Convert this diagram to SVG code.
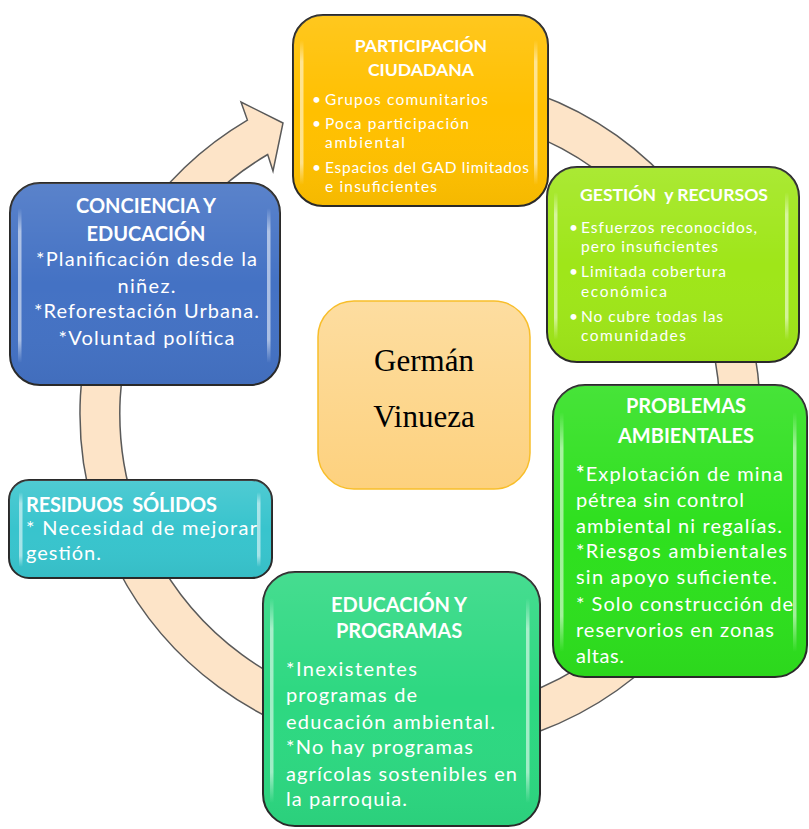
<svg xmlns="http://www.w3.org/2000/svg" width="809" height="829" viewBox="0 0 809 829">
<defs>
<linearGradient id="hl" x1="0" y1="0" x2="0" y2="1">
<stop offset="0" stop-color="#fff" stop-opacity="0"/>
<stop offset="0.15" stop-color="#fff" stop-opacity="0.55"/>
<stop offset="0.85" stop-color="#fff" stop-opacity="0.55"/>
<stop offset="1" stop-color="#fff" stop-opacity="0"/>
</linearGradient>
<linearGradient id="sheen" x1="0" y1="0" x2="0" y2="1">
<stop offset="0" stop-color="#fff" stop-opacity="0.12"/>
<stop offset="0.5" stop-color="#fff" stop-opacity="0"/>
<stop offset="1" stop-color="#000" stop-opacity="0.04"/>
</linearGradient>
<linearGradient id="center" x1="0" y1="0" x2="0" y2="1">
<stop offset="0" stop-color="#FDDDA0"/>
<stop offset="1" stop-color="#FDD17E"/>
</linearGradient>
</defs>
<style>
.box{stroke:#2a2a2a;stroke-width:2}
.sh{fill:url(#sheen);stroke:none}
.hl{fill:url(#hl)}
.t{font-family:Lato,"Open Sans","Liberation Sans",sans-serif;fill:#fff}
.h{font-weight:bold;text-anchor:middle;font-size:20px}
.hs{font-weight:bold;text-anchor:middle;font-size:17.6px}
.b{font-size:15.5px}
.m{font-size:20px}
.c{text-anchor:middle}
.ring{fill:#FDE4C8;stroke:#5a5a5a;stroke-width:1.5;stroke-linejoin:miter}
</style>
<rect width="809" height="829" fill="#fff"/>

<g id="connectors">
<path class="ring" d="M 360.96 78.2 A 340 340 0 1 1 247.4 120.1 L 241 102 L 283 123 L 273 171 L 267.7 154.5 A 300 300 0 1 0 367.9 117.6 Z"/>
</g>

<g id="participacion">
<rect class="box" x="293" y="15" width="255" height="191" rx="30" fill="#FFC000"/>
<rect class="sh" x="293" y="15" width="255" height="191" rx="30"/>
<rect class="hl" x="300" y="40" width="3.5" height="145" rx="1.7"/>
<rect class="hl" x="534" y="40" width="3.5" height="145" rx="1.7"/>
<text class="t hs" x="421" y="52">PARTICIPACIÓN</text>
<text class="t hs" x="421" y="76">CIUDADANA</text>
<text class="t b" x="312" y="105">•</text>
<text class="t b" x="312" y="129">•</text>
<text class="t b" x="312" y="173">•</text>
<text class="t b" x="325" y="105" textLength="163" lengthAdjust="spacing">Grupos comunitarios</text>
<text class="t b" x="325" y="129" textLength="144" lengthAdjust="spacing">Poca participación</text>
<text class="t b" x="325" y="148" textLength="80" lengthAdjust="spacing">ambiental</text>
<text class="t b" x="325" y="173" textLength="204" lengthAdjust="spacing">Espacios del GAD limitados</text>
<text class="t b" x="325" y="192" textLength="112" lengthAdjust="spacing">e insuficientes</text>
</g>

<g id="gestion">
<rect class="box" x="547" y="167" width="252" height="195" rx="30" fill="#9FE619"/>
<rect class="sh" x="547" y="167" width="252" height="195" rx="30"/>
<rect class="hl" x="554" y="192" width="3.5" height="148" rx="1.7"/>
<rect class="hl" x="785" y="192" width="3.5" height="148" rx="1.7"/>
<text class="t hs" x="674" y="201" xml:space="preserve">GESTIÓN  y RECURSOS</text>
<text class="t b" x="569" y="233">•</text>
<text class="t b" x="569" y="277">•</text>
<text class="t b" x="569" y="322">•</text>
<text class="t b" x="581" y="233" textLength="176" lengthAdjust="spacing">Esfuerzos reconocidos,</text>
<text class="t b" x="581" y="252" textLength="137" lengthAdjust="spacing">pero insuficientes</text>
<text class="t b" x="581" y="277" textLength="145" lengthAdjust="spacing">Limitada cobertura</text>
<text class="t b" x="581" y="297" textLength="86" lengthAdjust="spacing">económica</text>
<text class="t b" x="581" y="322" textLength="142" lengthAdjust="spacing">No cubre todas las</text>
<text class="t b" x="581" y="341" textLength="105" lengthAdjust="spacing">comunidades</text>
</g>

<g id="problemas">
<rect class="box" x="553" y="385" width="254" height="292" rx="32" fill="#2EE01E"/>
<rect class="sh" x="553" y="385" width="254" height="292" rx="32"/>
<rect class="hl" x="560" y="412" width="3.5" height="240" rx="1.7"/>
<rect class="hl" x="793" y="412" width="3.5" height="240" rx="1.7"/>
<text class="t h" x="686" y="413">PROBLEMAS</text>
<text class="t h" x="686" y="443">AMBIENTALES</text>
<text class="t m" x="576" y="481" textLength="207" lengthAdjust="spacing"><tspan font-weight="bold">*</tspan>Explotación de mina</text>
<text class="t m" x="576" y="507" textLength="168" lengthAdjust="spacing">pétrea sin control</text>
<text class="t m" x="576" y="533" textLength="206" lengthAdjust="spacing">ambiental ni regalías.</text>
<text class="t m" x="576" y="558" textLength="211" lengthAdjust="spacing">*Riesgos ambientales</text>
<text class="t m" x="576" y="584" textLength="201" lengthAdjust="spacing">sin apoyo suficiente.</text>
<text class="t m" x="576" y="611" textLength="217" lengthAdjust="spacing">* Solo construcción de</text>
<text class="t m" x="576" y="637" textLength="198" lengthAdjust="spacing">reservorios en zonas</text>
<text class="t m" x="576" y="663" textLength="48" lengthAdjust="spacing">altas.</text>
</g>

<g id="educacion-programas">
<rect class="box" x="263" y="572" width="277" height="254" rx="32" fill="#2DD881"/>
<rect class="sh" x="263" y="572" width="277" height="254" rx="32"/>
<rect class="hl" x="270" y="598" width="3.5" height="205" rx="1.7"/>
<rect class="hl" x="526" y="598" width="3.5" height="205" rx="1.7"/>
<text class="t h" x="399" y="612">EDUCACIÓN Y</text>
<text class="t h" x="399" y="638">PROGRAMAS</text>
<text class="t m" x="286" y="676" textLength="131" lengthAdjust="spacing">*Inexistentes</text>
<text class="t m" x="286" y="702" textLength="131" lengthAdjust="spacing">programas de</text>
<text class="t m" x="286" y="729" textLength="209" lengthAdjust="spacing">educación ambiental.</text>
<text class="t m" x="286" y="754" textLength="187" lengthAdjust="spacing">*No hay programas</text>
<text class="t m" x="286" y="781" textLength="231" lengthAdjust="spacing">agrícolas sostenibles en</text>
<text class="t m" x="286" y="806" textLength="121" lengthAdjust="spacing">la parroquia.</text>
</g>

<g id="residuos">
<rect class="box" x="9" y="480" width="263" height="98" rx="20" fill="#38C4CD"/>
<rect class="sh" x="9" y="480" width="263" height="98" rx="20"/>
<rect class="hl" x="19" y="492" width="3.5" height="75" rx="1.7"/>
<rect class="hl" x="257" y="492" width="3.5" height="75" rx="1.7"/>
<text class="t" x="26" y="512" font-size="20" font-weight="bold" textLength="191" lengthAdjust="spacing" xml:space="preserve">RESIDUOS  SÓLIDOS</text>
<text class="t m" x="26" y="535" textLength="231" lengthAdjust="spacing">* Necesidad de mejorar</text>
<text class="t m" x="26" y="560" textLength="75" lengthAdjust="spacing">gestión.</text>
</g>

<g id="conciencia">
<rect class="box" x="10" y="183" width="270" height="202" rx="30" fill="#4472C4"/>
<rect class="sh" x="10" y="183" width="270" height="202" rx="30"/>
<rect class="hl" x="18" y="208" width="3.5" height="155" rx="1.7"/>
<rect class="hl" x="267" y="208" width="3.5" height="155" rx="1.7"/>
<text class="t h" x="146" y="213">CONCIENCIA Y</text>
<text class="t h" x="146" y="241">EDUCACIÓN</text>
<text class="t m c" x="146.5" y="266" textLength="221" lengthAdjust="spacing">*Planificación desde la</text>
<text class="t m c" x="146.5" y="293" textLength="58" lengthAdjust="spacing">niñez.</text>
<text class="t m c" x="146.5" y="318" textLength="225" lengthAdjust="spacing">*Reforestación Urbana.</text>
<text class="t m c" x="146.5" y="345" textLength="176" lengthAdjust="spacing">*Voluntad política</text>
</g>

<g id="centro">
<rect x="318" y="301" width="212" height="188" rx="36" fill="url(#center)" stroke="#F8BE2A" stroke-width="1.5"/>
<text x="424" y="371" font-family="'Liberation Serif',serif" font-size="31" fill="#000" text-anchor="middle">Germán</text>
<text x="424" y="427" font-family="'Liberation Serif',serif" font-size="31" fill="#000" text-anchor="middle">Vinueza</text>
</g>
</svg>
